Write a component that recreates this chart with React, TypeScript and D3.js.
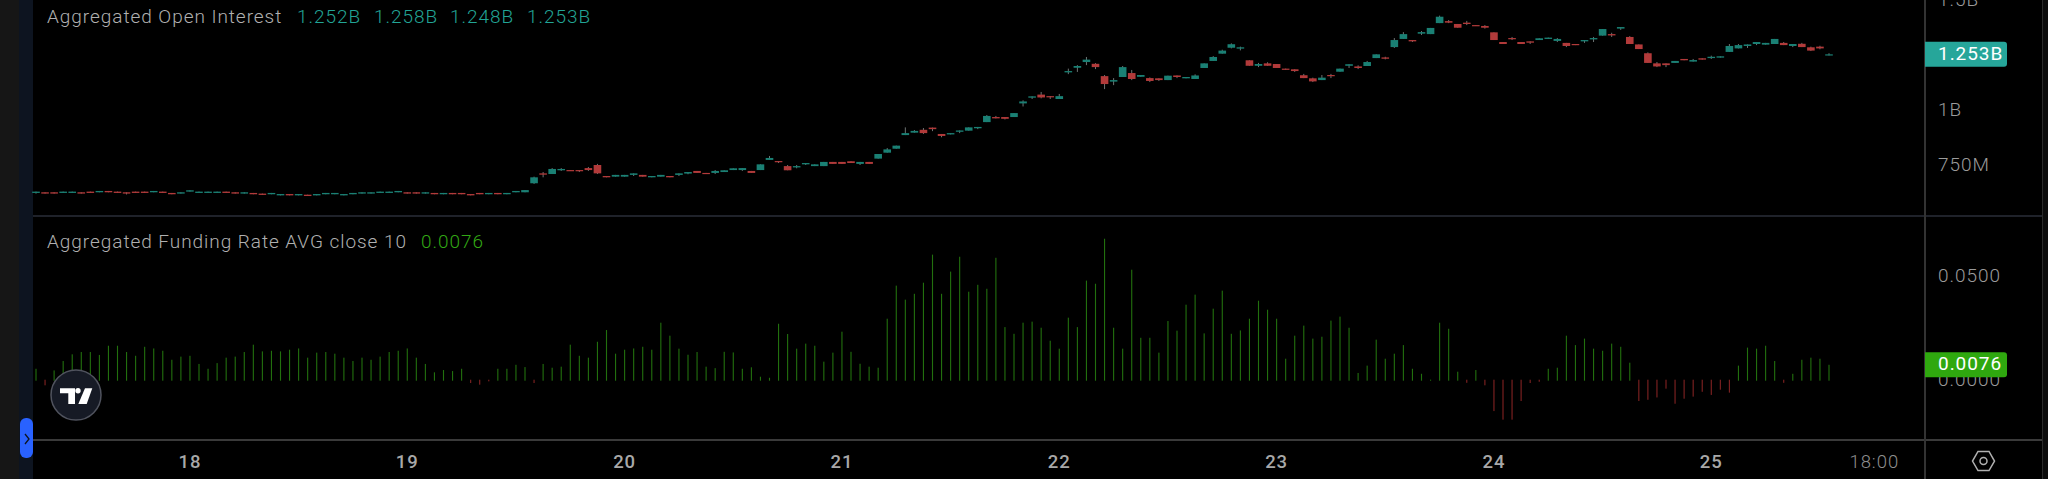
import React, { useEffect, useRef } from "react";
import * as d3 from "d3";

// hourly bars, first one is the 17th at 07:00
const firstBar = Date.UTC(2024, 2, 17, 7);
const hour = 3600 * 1000;

// open interest in millions
const opens = [
  623,626,626,623,623,626,629,626,632,629,
  626,629,629,626,629,623,620,629,623,623,
  623,629,626,620,623,620,617,612,618,612,
  615,612,617,617,612,617,620,620,623,623,
  626,626,626,620,623,617,623,623,618,623,
  617,623,617,626,626,667,712,709,726,727,
  727,736,750,700,697,697,705,705,694,697,
  700,705,711,723,714,714,718,727,727,723,
  727,773,768,745,739,753,745,745,764,764,
  767,755,764,779,806,824,886,897,910,920,
  891,889,901,906,917,945,968,968,968,1030,
  1056,1070,1063,1050,1171,1192,1218,1210,1154,1129,
  1150,1168,1151,1145,1144,1136,1157,1144,1141,1191,
  1223,1256,1283,1279,1226,1201,1212,1209,1188,1185,
  1158,1144,1136,1159,1174,1201,1198,1200,1236,1239,
  1286,1323,1318,1347,1345,1395,1404,1391,1397,1386,
  1382,1353,1309,1327,1309,1312,1318,1323,1314,1305,
  1300,1312,1321,1338,1345,1370,1332,1298,1258,1212,
  1212,1214,1232,1220,1235,1236,1238,1264,1280,1291,
  1300,1297,1300,1305,1291,1301,1285,1288,1252,
];
const closes = [
  629,620,620,629,629,620,623,632,626,623,
  620,623,623,632,623,617,626,635,629,629,
  629,623,620,626,617,614,623,618,612,618,
  609,618,623,623,618,623,626,626,629,629,
  632,620,620,626,617,623,617,617,612,617,
  623,617,623,632,636,694,706,732,732,723,
  723,727,712,694,705,705,712,697,700,705,
  694,712,718,714,709,723,726,735,736,714,
  753,782,764,726,745,759,753,764,755,755,
  759,764,755,800,821,838,895,905,895,913,
  882,895,907,921,923,973,962,960,986,1039,
  1062,1057,1059,1063,1177,1200,1229,1195,1118,1136,
  1195,1141,1159,1132,1136,1156,1150,1150,1157,1212,
  1241,1270,1299,1285,1201,1209,1201,1191,1183,1177,
  1145,1130,1147,1155,1188,1208,1191,1218,1253,1233,
  1318,1345,1312,1354,1373,1424,1397,1374,1391,1382,
  1374,1318,1300,1323,1300,1306,1326,1329,1323,1291,
  1295,1318,1327,1368,1339,1377,1300,1277,1214,1198,
  1204,1223,1226,1227,1229,1242,1244,1291,1295,1298,
  1309,1305,1323,1295,1300,1286,1270,1280,1253,
];
const highs = [
  629,626,626,629,629,626,629,632,632,629,
  626,629,629,632,629,623,626,635,629,629,
  629,629,626,626,623,620,623,618,618,618,
  615,618,623,623,618,623,626,626,629,629,
  632,626,626,626,623,623,623,623,618,623,
  623,623,623,632,636,697,718,736,736,727,
  727,741,755,700,705,705,712,705,700,705,
  700,712,718,723,714,727,726,735,736,723,
  753,791,768,750,750,759,753,764,764,764,
  767,764,764,800,827,838,921,909,918,920,
  891,895,907,921,923,977,973,968,986,1044,
  1062,1082,1063,1073,1188,1204,1241,1213,1159,1145,
  1200,1182,1159,1148,1144,1156,1157,1150,1162,1212,
  1245,1274,1303,1288,1226,1214,1217,1209,1188,1185,
  1164,1147,1159,1164,1188,1208,1203,1223,1253,1242,
  1327,1354,1318,1359,1373,1429,1409,1391,1405,1386,
  1386,1353,1309,1332,1309,1312,1326,1329,1327,1305,
  1300,1318,1332,1368,1351,1377,1336,1298,1262,1218,
  1212,1223,1232,1232,1235,1247,1244,1300,1300,1298,
  1309,1305,1323,1309,1300,1305,1288,1292,1258,
];
const lows = [
  620,620,620,623,623,620,623,626,626,623,
  616,623,623,626,623,617,620,629,623,623,
  623,623,620,620,617,614,617,612,612,612,
  609,612,617,617,612,617,620,620,623,623,
  626,620,620,620,617,617,617,617,612,617,
  617,617,617,626,626,664,694,709,723,723,
  718,723,709,694,697,697,700,697,694,697,
  694,700,708,714,709,709,718,727,723,714,
  727,773,759,726,735,750,745,745,755,755,
  759,750,755,779,806,824,886,897,891,904,
  876,889,895,906,913,945,962,957,968,1016,
  1050,1053,1050,1050,1163,1173,1204,1186,1095,1113,
  1150,1136,1151,1127,1132,1136,1145,1144,1141,1191,
  1223,1256,1280,1271,1201,1195,1201,1191,1183,1173,
  1145,1127,1136,1145,1174,1191,1186,1200,1236,1230,
  1282,1323,1309,1341,1345,1395,1395,1374,1386,1382,
  1370,1318,1300,1318,1300,1300,1318,1323,1309,1286,
  1295,1305,1309,1338,1332,1364,1300,1277,1214,1195,
  1195,1214,1226,1220,1229,1232,1238,1264,1280,1282,
  1295,1297,1300,1295,1286,1286,1268,1276,1248,
];

const funding = [
  .0057,-.0022,.0049,.0094,.0126,.0137,.0137,.0123,.0167,.0167,
  .0137,.0119,.0162,.0154,.0143,.0100,.0115,.0119,.0080,.0057,
  .0084,.0110,.0115,.0137,.0172,.0140,.0143,.0140,.0148,.0154,
  .0110,.0134,.0137,.0129,.0110,.0094,.0110,.0100,.0115,.0137,
  .0143,.0154,.0110,.0080,.0040,.0051,.0046,.0057,-.0011,-.0019,
  -.0003,.0057,.0057,.0076,.0065,-.0011,.0080,.0062,.0067,.0172,
  .0119,.0110,.0186,.0242,.0129,.0148,.0154,.0162,.0148,.0277,
  .0215,.0153,.0124,.0137,.0067,.0060,.0138,.0135,.0057,.0064,
  .0019,.0014,.0272,.0223,.0153,.0177,.0167,.0091,.0134,.0234,
  .0138,.0081,.0067,.0062,.0296,.0454,.0387,.0415,.0468,.0602,
  .0415,.0521,.0592,.0425,.0458,.0439,.0587,.0256,.0224,.0277,
  .0282,.0253,.0191,.0153,.0301,.0256,.0478,.0463,.0678,.0253,
  .0153,.0530,.0205,.0205,.0134,.0285,.0239,.0363,.0411,.0226,
  .0344,.0430,.0224,.0240,.0296,.0382,.0339,.0296,.0105,.0215,
  .0263,.0201,.0210,.0287,.0306,.0253,.0037,.0072,.0196,.0105,
  .0129,.0170,.0057,.0033,.0005,.0277,.0248,.0043,-.0010,.0051,
  -.0022,-.0145,-.0186,-.0186,-.0097,-.0011,-.0005,.0057,.0062,.0215,
  .0170,.0201,.0153,.0143,.0177,.0162,.0086,-.0097,-.0091,-.0080,
  -.0038,-.0110,-.0086,-.0076,-.0053,-.0068,-.0043,-.0057,.0072,.0158,
  .0153,.0167,.0094,-.0010,.0033,.0100,.0110,.0105,.0076,
];

const oiTicks = [750, 1000, 1500];
const oiTickLabels = ["750M", "1B", "1.5B"];
const fundingTicks = [0, 0.05];
const ohlcLabels = ["1.252B", "1.258B", "1.248B", "1.253B"];
const dayTicks = [18, 19, 20, 21, 22, 23, 24, 25];

const FONT = "Roboto, sans-serif";
const UP = "#1a8074";
const DOWN = "#b23a3a";
const WICK = "#6d7373";
const LABEL = "#9b9b9b";

const App: React.FC = () => {
  const ref = useRef<SVGSVGElement | null>(null);

  useEffect(() => {
    if (!ref.current) return;
    document.body.style.margin = "0";
    document.body.style.background = "#000";

    const svg = d3.select(ref.current);
    svg.selectAll("*").remove();

    const width = 2048;
    const height = 479;
    const times = opens.map((_, i) => new Date(firstBar + i * hour));

    const x = d3
      .scaleUtc()
      .domain([times[0], times[times.length - 1]])
      .range([36, 1829]);
    const yOi = d3.scaleLinear().domain([750, 1000]).range([165, 110]);
    const yFund = d3.scaleLinear().domain([0, 0.05]).range([380.7, 276]);

    // background panels
    svg.append("rect").attr("width", width).attr("height", height).attr("fill", "#000");
    svg.append("rect").attr("width", 19).attr("height", height).attr("fill", "#161616");
    svg.append("rect").attr("x", 19).attr("width", 14).attr("height", height).attr("fill", "#0d1420");
    svg.append("rect").attr("x", 2043).attr("width", 5).attr("height", height).attr("fill", "#0c0c0c");

    // funding histogram
    svg
      .append("g")
      .selectAll("rect")
      .data(funding)
      .enter()
      .append("rect")
      .attr("x", (_, i) => x(times[i]) - 0.55)
      .attr("width", 1.1)
      .attr("y", (d) => (d >= 0 ? yFund(d) : yFund(0) - 1))
      .attr("height", (d) => Math.abs(yFund(d) - yFund(0)) + (d >= 0 ? 0 : 1))
      .attr("fill", (d) => (d >= 0 ? "#22700e" : "#822222"));

    // candles
    const candles = svg.append("g").selectAll("g").data(d3.range(opens.length)).enter().append("g");
    candles
      .append("line")
      .attr("x1", (i) => x(times[i]))
      .attr("x2", (i) => x(times[i]))
      .attr("y1", (i) => yOi(highs[i]))
      .attr("y2", (i) => yOi(lows[i]))
      .attr("stroke", WICK)
      .attr("stroke-width", 1);
    candles
      .append("rect")
      .attr("x", (i) => x(times[i]) - 3.8)
      .attr("width", 7.6)
      .attr("y", (i) => yOi(Math.max(opens[i], closes[i])))
      .attr("height", (i) => Math.max(1.2, Math.abs(yOi(opens[i]) - yOi(closes[i]))))
      .attr("fill", (i) => (closes[i] >= opens[i] ? UP : DOWN));

    // pane separators
    svg.append("line").attr("x1", 33).attr("x2", 2043).attr("y1", 216).attr("y2", 216).attr("stroke", "#2a2e39").attr("stroke-width", 1.5);
    svg.append("line").attr("x1", 33).attr("x2", 2043).attr("y1", 440).attr("y2", 440).attr("stroke", "#3a3a3a").attr("stroke-width", 2);
    svg.append("line").attr("x1", 1925).attr("x2", 1925).attr("y1", 0).attr("y2", height).attr("stroke", "#333").attr("stroke-width", 2);
    svg.append("line").attr("x1", 2042.5).attr("x2", 2042.5).attr("y1", 0).attr("y2", height).attr("stroke", "#2b2b2b").attr("stroke-width", 1);

    const text = (tx: number, ty: number, s: string, fill: string, size = 19, anchor = "start", weight = 300) =>
      svg
        .append("text")
        .attr("x", tx)
        .attr("y", ty)
        .attr("dy", "0.3em")
        .attr("fill", fill)
        .attr("font-family", FONT)
        .attr("font-size", size)
        .attr("font-weight", weight)
        .attr("letter-spacing", 0.95)
        .attr("text-anchor", anchor)
        .text(s);

    // legends
    text(47, 17.5, "Aggregated Open Interest", "#b0b0b0");
    [297, 374, 450, 527].forEach((lx, i) => text(lx, 17.5, ohlcLabels[i], "#22a596"));
    text(47, 242.5, "Aggregated Funding Rate AVG close 10", "#b0b0b0");
    text(421, 242.5, d3.format(".4f")(funding[funding.length - 1]), "#32a814");

    // price scales
    oiTicks.forEach((v, i) => text(1938, yOi(v), oiTickLabels[i], LABEL));
    fundingTicks.forEach((v) => text(1938, yFund(v), d3.format(".4f")(v), LABEL));

    // last value tags
    const tag = (cy: number, fill: string, s: string) => {
      svg.append("path")
        .attr("d", `M1925,${cy - 12.5}H2004a3,3 0 0 1 3,3V${cy + 9.5}a3,3 0 0 1 -3,3H1925Z`)
        .attr("fill", fill);
      text(1938, cy, s, "#fff", 19, "start", 400);
    };
    tag(yOi(closes[closes.length - 1]), "#26a69a", ohlcLabels[3]);
    tag(yFund(funding[funding.length - 1]), "#2fa80f", d3.format(".4f")(funding[funding.length - 1]));

    // time axis
    dayTicks.forEach((d) => {
      const t = new Date(Date.UTC(2024, 2, d));
      text(x(t), 462.5, String(d), "#a8a8a8", 18.5, "middle", 500);
    });
    text(x(new Date(Date.UTC(2024, 2, 25, 18))), 462.5, "18:00", "#8e8e8e", 18.5, "middle");

    // settings icon
    const hexagon = d3.range(6).map((k) => {
      const a = (Math.PI / 3) * k;
      return [1983.5 + 11 * Math.cos(a), 461 + 11 * Math.sin(a)] as [number, number];
    });
    svg.append("path").attr("d", d3.line()(hexagon) + "Z").attr("fill", "none").attr("stroke", "#b0b0b0").attr("stroke-width", 1.5);
    svg.append("circle").attr("cx", 1983.5).attr("cy", 461).attr("r", 3.5).attr("fill", "none").attr("stroke", "#b0b0b0").attr("stroke-width", 1.5);

    // logo button
    const logo = svg.append("g").attr("transform", "translate(76,395)");
    logo.append("circle").attr("r", 25).attr("fill", "#161a25").attr("stroke", "#50535e").attr("stroke-width", 1.5);
    logo.append("path").attr("d", "M-16,-6.7H-1V9H-7.7V-1.7H-16Z").attr("fill", "#fff");
    logo.append("circle").attr("cx", 2).attr("cy", -4.3).attr("r", 2.7).attr("fill", "#fff");
    logo.append("path").attr("d", "M9,-6.7H16.3L10.7,9H2.3Z").attr("fill", "#fff");

    // collapse tab
    svg.append("rect").attr("x", 20).attr("y", 418).attr("width", 13).attr("height", 40).attr("rx", 6).attr("fill", "#2962ff");
    svg.append("path").attr("d", "M25,434L29,439L25,444").attr("fill", "none").attr("stroke", "#0d1420").attr("stroke-width", 1.3);

    return () => {
      svg.selectAll("*").remove();
    };
  }, []);

  return <svg ref={ref} width={2048} height={479} style={{ display: "block" }} />;
};

export default App;
